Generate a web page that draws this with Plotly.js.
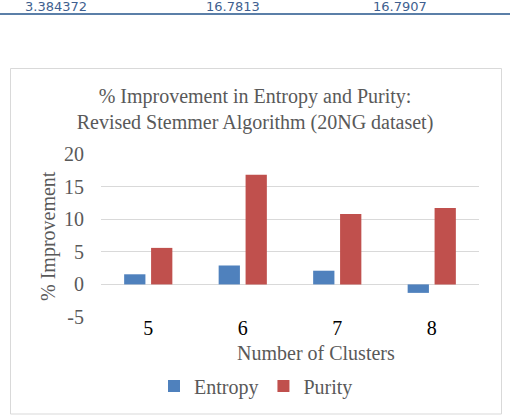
<!DOCTYPE html>
<html>
<head>
<meta charset="utf-8">
<script src="https://cdn.plot.ly/plotly-3.0.1.min.js"></script>
<style>
  html, body { margin: 0; padding: 0; background: #ffffff; }
  #chart { width: 510px; height: 418px; }
</style>
</head>
<body>
<div id="chart"></div>
<script>
// Number of clusters and % improvement of the revised stemmer (20NG dataset)
const clusters = ['5', '6', '7', '8'];
const entropyGain = [1.55, 2.9, 2.1, -1.3];
const purityGain = [5.6, 16.8, 10.8, 11.7];

// Value-axis ticks (plain hyphen for the negative label)
const yTickVals = [-5, 0, 5, 10, 15, 20];
const yTickText = ['-5', '0', '5', '10', '15', '20'];

// Values from the table row running above the chart
const tableRow = ['3.384372', '16.7813', '16.7907'];

const W = 510, H = 418;
const M = { l: 101, r: 31, t: 154, b: 101 };
const plotW = W - M.l - M.r;
const plotH = H - M.t - M.b;
// pixel position -> paper fraction, for the decorations around the plot
const px = x => (x - M.l) / plotW;
const py = y => (H - M.b - y) / plotH;

const serif = 'Liberation Serif, Times New Roman, serif';
const grey = '#595959';
const FS = 20;

const traces = [
  {
    type: 'bar', name: 'Entropy', x: clusters, y: entropyGain,
    marker: { color: '#4f81bd' }
  },
  {
    type: 'bar', name: 'Purity', x: clusters, y: purityGain,
    marker: { color: '#c0504d' }
  }
];

const tableX = [56, 233, 400];

const layout = {
  width: W, height: H,
  margin: M,
  paper_bgcolor: '#ffffff',
  plot_bgcolor: '#ffffff',
  font: { family: serif, size: FS, color: grey },
  title: {
    text: '% Improvement in Entropy and Purity:<br>Revised Stemmer Algorithm (20NG dataset)',
    font: { family: serif, size: FS, color: grey },
    x: 0.5, xref: 'container', xanchor: 'center',
    y: 1 - 103 / H, yref: 'container', yanchor: 'middle'
  },
  barmode: 'group',
  bargap: 0.43,
  bargroupgap: 0.21,
  showlegend: true,
  legend: {
    orientation: 'h',
    x: px(256), xanchor: 'center',
    y: py(386), yanchor: 'middle',
    font: { family: serif, size: FS, color: grey },
    itemwidth: 30,
    tracegroupgap: 0
  },
  xaxis: {
    type: 'category',
    showgrid: false, zeroline: false, showline: false,
    ticks: '',
    ticklabelstandoff: -3,
    tickfont: { family: serif, size: FS, color: '#000000' },
    fixedrange: true
  },
  yaxis: {
    range: [-5, 20],
    tickmode: 'array', tickvals: yTickVals, ticktext: yTickText,
    showgrid: true, gridcolor: '#d9d9d9', gridwidth: 1,
    zeroline: false, showline: false,
    ticks: '',
    ticklabelstandoff: 16,
    tickfont: { family: serif, size: FS, color: grey },
    fixedrange: true
  },
  annotations: [
    {
      text: 'Number of Clusters', showarrow: false,
      xref: 'paper', yref: 'paper', x: px(316), y: py(353),
      xanchor: 'center', yanchor: 'middle',
      font: { family: serif, size: FS, color: grey }
    },
    {
      text: '% Improvement', showarrow: false, textangle: -90,
      xref: 'paper', yref: 'paper', x: px(48), y: py(236),
      xanchor: 'center', yanchor: 'middle',
      font: { family: serif, size: FS, color: grey }
    }
  ].concat(tableRow.map((t, i) => ({
    text: t, showarrow: false,
    xref: 'paper', yref: 'paper', x: px(tableX[i]), y: py(6),
    xanchor: 'center', yanchor: 'middle',
    font: { family: 'DejaVu Sans, Verdana, sans-serif', size: 13, color: '#3f5f8f' }
  }))),
  shapes: [
    // chart frame
    {
      type: 'rect', xref: 'paper', yref: 'paper',
      x0: px(10.5), x1: px(501.5), y0: py(414), y1: py(68.5),
      line: { color: '#d9d9d9', width: 1 }, fillcolor: 'rgba(0,0,0,0)'
    },
    // table border line above the chart
    {
      type: 'line', xref: 'paper', yref: 'paper',
      x0: px(0), x1: px(510), y0: py(14), y1: py(14),
      line: { color: '#5b7fa8', width: 2 }
    }
  ]
};

Plotly.newPlot('chart', traces, layout, { displayModeBar: false, staticPlot: true });
</script>
</body>
</html>
